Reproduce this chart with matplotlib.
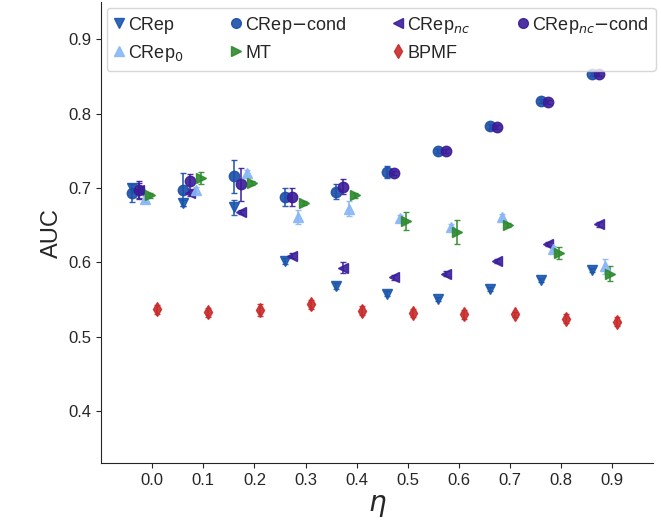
import matplotlib
matplotlib.use("Agg")
import matplotlib.pyplot as plt
from matplotlib.lines import Line2D
import seaborn as sns
import numpy as np

# ===== 数据 =====
eta = [0.0, 0.1, 0.2, 0.3, 0.4, 0.5, 0.6, 0.7, 0.8, 0.9]

crep = [0.700, 0.680, 0.674, 0.602, 0.568, 0.558, 0.551, 0.564, 0.576, 0.590]
crep_err = [0.005, 0.004, 0.010, 0.004, 0.004, 0.003, 0.003, 0.003, 0.003, 0.003]
crep_cond = [0.693, 0.698, 0.716, 0.688, 0.695, 0.721, 0.750, 0.783, 0.817, 0.853]
crep_cond_err = [0.012, 0.022, 0.022, 0.012, 0.010, 0.008, 0.003, 0.003, 0.003, 0.003]
crep_nc = [0.697, 0.693, 0.668, 0.609, 0.593, 0.580, 0.585, 0.602, 0.625, 0.651]
crep_nc_err = [0.010, 0.004, 0.003, 0.003, 0.007, 0.003, 0.003, 0.003, 0.003, 0.003]
crep_nc_cond = [0.697, 0.709, 0.705, 0.688, 0.702, 0.720, 0.750, 0.782, 0.816, 0.853]
crep_nc_cond_err = [0.012, 0.010, 0.022, 0.012, 0.010, 0.003, 0.003, 0.003, 0.003, 0.003]
crep0 = [0.685, 0.697, 0.720, 0.661, 0.672, 0.660, 0.648, 0.661, 0.618, 0.595]
crep0_err = [0.004, 0.004, 0.004, 0.010, 0.010, 0.004, 0.004, 0.004, 0.004, 0.010]
mt = [0.690, 0.713, 0.707, 0.680, 0.690, 0.656, 0.641, 0.650, 0.613, 0.585]
mt_err = [0.003, 0.008, 0.003, 0.003, 0.003, 0.012, 0.016, 0.003, 0.008, 0.010]
bpmf = [0.537, 0.533, 0.536, 0.544, 0.535, 0.532, 0.530, 0.530, 0.524, 0.520]
bpmf_err = [0.006, 0.006, 0.008, 0.006, 0.006, 0.006, 0.006, 0.004, 0.006, 0.006]

sns.set_style("ticks")
plt.rcParams["font.family"] = ["Liberation Sans", "DejaVu Sans"]

fig = plt.figure(figsize=(6.61, 5.30), dpi=100)
ax = fig.add_axes([0.153, 0.126, 0.835, 0.87])

series = [
    ("CRep", crep, crep_err, "v", "#1a56ad", -0.040),
    ("CRep$-$cond", crep_cond, crep_cond_err, "o", "#1c4fa8", -0.040),
    ("CRep$_{nc}$", crep_nc, crep_nc_err, "<", "#3b1f9c", -0.026),
    ("CRep$_{nc}$$-$cond", crep_nc_cond, crep_nc_cond_err, "o", "#3a1c98", -0.026),
    ("CRep$_0$", crep0, crep0_err, "^", "#8ab6f5", -0.015),
    ("MT", mt, mt_err, ">", "#2d8a2d", -0.004),
    ("BPMF", bpmf, bpmf_err, "d", "#c92a2a", 0.010),
]
# 图例顺序按 4 列排布
order = [0, 4, 1, 5, 2, 6, 3]

handles = {}
for i, (lab, y, e, m, c, off) in enumerate(series):
    x = np.array(eta) + off
    ax.errorbar(x, y, yerr=e, fmt=m, color=c, ecolor=c, markersize=7.5,
                capsize=2, elinewidth=1.2, alpha=0.9)
    handles[i] = Line2D([], [], linestyle="none", marker=m, color=c,
                        markersize=7, alpha=0.9)

ax.set_xlim(-0.1, 0.98)
ax.set_ylim(0.33, 0.95)
ax.set_xticks(eta)
ax.set_xticklabels([f"{v:.1f}" for v in eta], fontsize=12)
ax.set_yticks([0.4, 0.5, 0.6, 0.7, 0.8, 0.9])
ax.set_yticklabels(["0.4", "0.5", "0.6", "0.7", "0.8", "0.9"], fontsize=12)
ax.set_xlabel(r"$\eta$", fontsize=20)
ax.set_ylabel("AUC", fontsize=17)
sns.despine(ax=ax)

ax.legend([handles[i] for i in order], [series[i][0] for i in order],
          ncol=4, loc="upper left", fontsize=13, handletextpad=0.2,
          columnspacing=2.6, handlelength=0.6, borderaxespad=0.3,
          frameon=True)

fig.savefig("out.png", dpi=100)
